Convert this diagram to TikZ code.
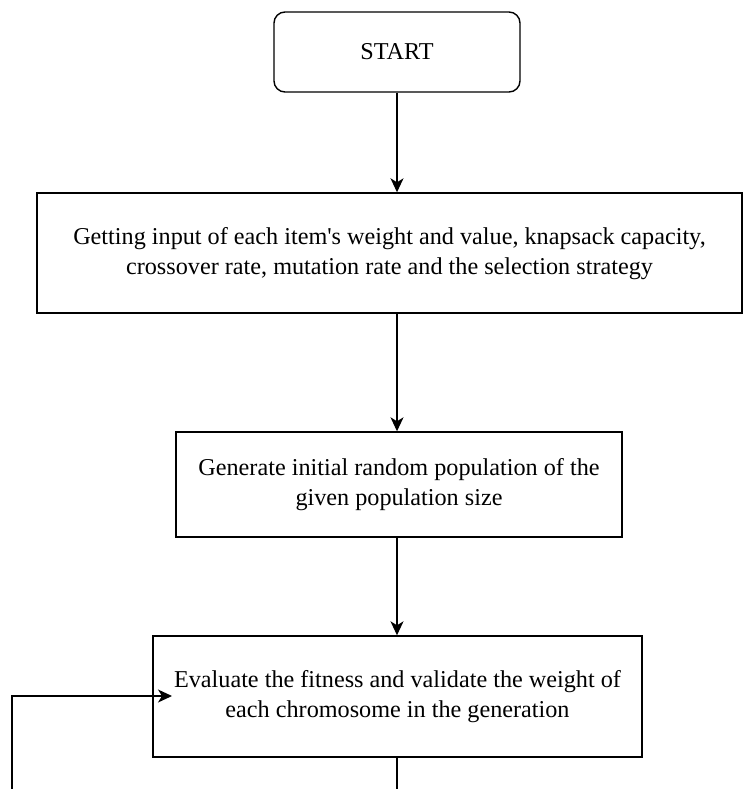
\documentclass[tikz,border=0pt]{standalone}
\usepackage{fontspec}
\setmainfont{Liberation Serif}
\usetikzlibrary{arrows.meta}
\begin{document}
\begin{tikzpicture}[x=1pt,y=-1pt,
  box/.style={draw=black, line width=1.4pt, align=center, inner sep=0pt, font=\fontsize{24.2}{30}\selectfont},
  conn/.style={draw=black, line width=1.4pt},
  arr/.style={conn, -{Stealth[length=14pt,width=13pt,inset=4pt]}}]
\useasboundingbox (0,0) rectangle (749,789);
\clip (0,0) rectangle (749,789);
\node[box, rounded corners=11pt, minimum width=246pt, minimum height=80pt] (start) at (397,52) {START};
\node[box, minimum width=705pt, minimum height=120pt] (input) at (389.5,253) {\raisebox{-5pt}{\begin{tabular}{@{}c@{}}Getting input of each item\textquotesingle s weight and value, knapsack capacity,\\crossover rate, mutation rate and the selection strategy\end{tabular}}};
\node[box, minimum width=446pt, minimum height=105pt] (gen) at (399,484.5) {Generate initial random population of the\\given population size};
\node[box, minimum width=489pt, minimum height=121pt] (eval) at (397.5,696.5) {Evaluate the fitness and validate the weight of\\each chromosome in the generation};
\coordinate (down) at (397,800);
\coordinate (loopstart) at (12,800);
\coordinate (loopcorner) at (12,696);
\coordinate (looptip) at (172,696);
\draw[arr] (start.south) -- (input.north -| start.south);
\draw[arr] (input.south -| start.south) -- (gen.north -| start.south);
\draw[arr] (gen.south -| start.south) -- (eval.north -| start.south);
\draw[conn] (eval.south -| start.south) -- (down);
\draw[arr] (loopstart) -- (loopcorner) -- (looptip);
\end{tikzpicture}
\end{document}
